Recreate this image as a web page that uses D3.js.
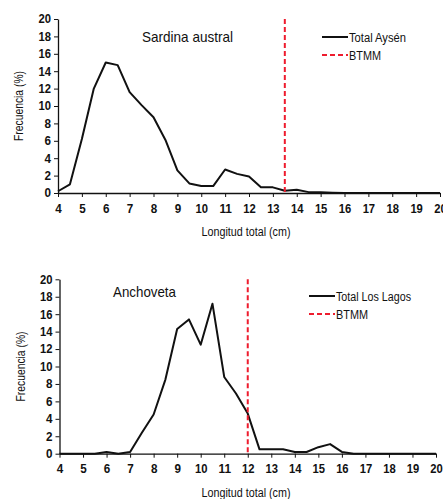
<!DOCTYPE html>
<html><head><meta charset="utf-8">
<script src="https://cdn.jsdelivr.net/npm/d3@7"></script>
<style>
html,body{margin:0;padding:0;background:#fff;}
text{font-family:"Liberation Sans",Arial,sans-serif;fill:#111;}
</style></head>
<body>
<svg id="c" width="443" height="499"></svg>
<script>
const lengths = [4,4.5,5,5.5,6,6.5,7,7.5,8,8.5,9,9.5,10,10.5,11,11.5,12,12.5,13,13.5,14,14.5,15,15.5,16,16.5,17,17.5,18,18.5,19,19.5,20];
const sardinaAysen = [0.2,1.0,6.2,12.0,15.0,14.7,11.6,10.1,8.7,6.1,2.6,1.1,0.8,0.8,2.7,2.2,1.9,0.65,0.65,0.25,0.38,0.1,0.1,0.04,0,0,0,0,0,0,0,0,0];
const anchovetaLosLagos = [0,0,0,0,0.2,0,0.2,2.4,4.5,8.5,14.3,15.4,12.5,17.2,8.8,6.9,4.6,0.5,0.5,0.5,0.2,0.2,0.75,1.1,0.2,0,0,0,0,0,0,0,0];
const xTicks = [4,5,6,7,8,9,10,11,12,13,14,15,16,17,18,19,20];
const yTicks = [0,2,4,6,8,10,12,14,16,18,20];
const btmmSardina = 13.5;
const btmmAnchoveta = 12;

const svg = d3.select("#c");

function narrow(sel, w){
  sel.attr("textLength", w).attr("lengthAdjust","spacingAndGlyphs");
}

function panel(cfg){
  const g = svg.append("g");
  const x = d3.scaleLinear().domain([4,20]).range([cfg.x0, cfg.x1]);
  const y = d3.scaleLinear().domain([0,20]).range([cfg.y0, cfg.y1]);
  const xa = g.append("g").attr("transform",`translate(0,${cfg.y0})`)
    .call(d3.axisBottom(x).tickValues(xTicks).tickFormat(d3.format("d")).tickSize(4).tickSizeOuter(0).tickPadding(7));
  const ya = g.append("g").attr("transform",`translate(${cfg.x0},0)`)
    .call(d3.axisLeft(y).tickValues(yTicks).tickSize(4).tickSizeOuter(0).tickPadding(3));
  [xa,ya].forEach(a=>{
    a.select(".domain").attr("stroke","#111").attr("stroke-width",1.3);
    a.selectAll(".tick line").attr("stroke","#111").attr("stroke-width",1);
    a.selectAll(".tick text").attr("font-size",12).attr("font-weight","bold")
      .style("font-family",'"Liberation Sans",Arial,sans-serif').attr("fill","#111");
  });
  xa.selectAll(".tick text").each(function(d){ narrow(d3.select(this), d>=10 ? 12.5 : 6.5); });
  ya.selectAll(".tick text").each(function(d){ narrow(d3.select(this), d>=10 ? 12.5 : 6.5); });
  g.append("path").datum(cfg.values.map((v,i)=>[lengths[i],v]))
    .attr("fill","none").attr("stroke","#111").attr("stroke-width",2).attr("stroke-linejoin","round")
    .attr("d", d3.line().x(d=>x(d[0])).y(d=>y(d[1])));
  g.append("line").attr("x1",x(cfg.btmm)).attr("x2",x(cfg.btmm)).attr("y1",y(20)).attr("y2",y(0))
    .attr("stroke","#ee1c2e").attr("stroke-width",2).attr("stroke-dasharray","5,3");
  g.append("text").attr("x",cfg.titleX).attr("y",cfg.titleY).attr("font-size",14.5).text(cfg.title).call(narrow, cfg.titleW);
  g.append("text").attr("transform",`translate(${cfg.ylabX},${(cfg.y0+cfg.y1)/2}) rotate(-90)`)
    .attr("text-anchor","middle").attr("font-size",12).text("Frecuencia (%)").call(narrow, 70);
  g.append("text").attr("x",cfg.xlabX).attr("y",cfg.xlabY).attr("text-anchor","middle").attr("font-size",12).text("Longitud total (cm)").call(narrow, 89);
  // legend
  const lx = cfg.legX, ly = cfg.legY;
  g.append("line").attr("x1",lx).attr("x2",lx+26).attr("y1",ly).attr("y2",ly).attr("stroke","#111").attr("stroke-width",2);
  g.append("text").attr("x",lx+27).attr("y",ly+4.5).attr("font-size",12.5).text(cfg.legend).call(narrow, cfg.legW);
  g.append("line").attr("x1",lx).attr("x2",lx+26).attr("y1",ly+18).attr("y2",ly+18).attr("stroke","#ee1c2e").attr("stroke-width",2).attr("stroke-dasharray","5,3");
  g.append("text").attr("x",lx+27).attr("y",ly+22.5).attr("font-size",12.5).text("BTMM").call(narrow, 32);
}

panel({x0:58,x1:440,y0:193,y1:19,values:sardinaAysen,btmm:btmmSardina,title:"Sardina austral",titleX:142,titleY:42,titleW:91,
  ylabX:23,xlabX:246,xlabY:236,legend:"Total Aysén",legW:57,legX:322,legY:37});
panel({x0:59.5,x1:436,y0:453.7,y1:279.3,values:anchovetaLosLagos,btmm:btmmAnchoveta,title:"Anchoveta",titleX:113,titleY:297,titleW:63,
  ylabX:25,xlabX:246,xlabY:497,legend:"Total Los Lagos",legW:75,legX:309,legY:296});
</script>
</body></html>
